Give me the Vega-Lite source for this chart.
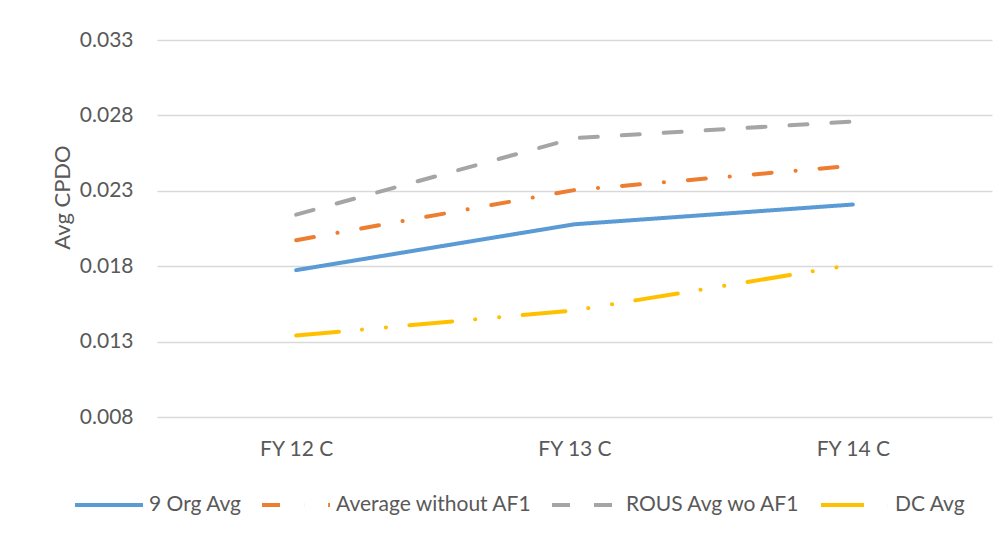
{
  "$schema": "https://vega.github.io/schema/vega-lite/v6.json",
  "width": 835,
  "height": 377,
  "autosize": {"type": "none"},
  "padding": {"left": 157, "top": 40, "right": 13, "bottom": 121},
  "background": "white",
  "config": {
    "view": {"stroke": null},
    "font": "Lato",
    "axis": {"labelColor": "#595959", "titleColor": "#595959", "labelFont": "Lato", "titleFont": "Lato"},
    "legend": {
      "orient": "none",
      "direction": "horizontal",
      "legendX": -84,
      "legendY": 429,
      "padding": 0,
      "symbolType": "stroke",
      "symbolSize": 4624,
      "symbolStrokeWidth": 4,
      "labelFontSize": 21,
      "labelColor": "#595959",
      "labelFont": "Lato",
      "labelLimit": 0,
      "labelOffset": 4,
      "columnPadding": 12,
      "title": null
    }
  },
  "data": {
    "values": [
      {"period": "FY 12 C", "series": "9 Org Avg", "cpdo": 0.01774},
      {"period": "FY 13 C", "series": "9 Org Avg", "cpdo": 0.02078},
      {"period": "FY 14 C", "series": "9 Org Avg", "cpdo": 0.02209},
      {"period": "FY 12 C", "series": "Average without AF1", "cpdo": 0.01972},
      {"period": "FY 13 C", "series": "Average without AF1", "cpdo": 0.02305},
      {"period": "FY 14 C", "series": "Average without AF1", "cpdo": 0.02466},
      {"period": "FY 12 C", "series": "ROUS Avg wo AF1", "cpdo": 0.02142},
      {"period": "FY 13 C", "series": "ROUS Avg wo AF1", "cpdo": 0.02649},
      {"period": "FY 14 C", "series": "ROUS Avg wo AF1", "cpdo": 0.02759},
      {"period": "FY 12 C", "series": "DC Avg", "cpdo": 0.0134},
      {"period": "FY 13 C", "series": "DC Avg", "cpdo": 0.01507},
      {"period": "FY 14 C", "series": "DC Avg", "cpdo": 0.0181}
    ]
  },
  "mark": {"type": "line", "strokeWidth": 4, "strokeCap": "round"},
  "encoding": {
    "x": {
      "field": "period",
      "type": "nominal",
      "sort": ["FY 12 C", "FY 13 C", "FY 14 C"],
      "scale": {"type": "point", "padding": 0.5},
      "axis": {
        "title": null,
        "domain": false,
        "ticks": false,
        "grid": false,
        "labelAngle": 0,
        "labelFontSize": 21,
        "labelPadding": 21
      }
    },
    "y": {
      "field": "cpdo",
      "type": "quantitative",
      "scale": {"domain": [0.008, 0.033], "nice": false, "zero": false},
      "axis": {
        "title": "Avg CPDO",
        "values": [0.008, 0.013, 0.018, 0.023, 0.028, 0.033],
        "format": ".3f",
        "domain": false,
        "ticks": false,
        "grid": true,
        "gridColor": "#d9d9d9",
        "gridWidth": 1.5,
        "labelFontSize": 21,
        "labelPadding": 24,
        "titleFontSize": 22,
        "titleFontWeight": "normal",
        "titleX": -95,
        "titleY": 157,
        "titleAlign": "center",
        "titleBaseline": "middle",
        "titleAngle": -90
      }
    },
    "color": {
      "field": "series",
      "type": "nominal",
      "sort": ["9 Org Avg", "Average without AF1", "ROUS Avg wo AF1", "DC Avg"],
      "scale": {
        "domain": ["9 Org Avg", "Average without AF1", "ROUS Avg wo AF1", "DC Avg"],
        "range": ["#5B9BD5", "#ED7D31", "#A5A5A5", "#FFC000"]
      },
      "legend": {
        "labelExpr": "datum.label == 'DC Avg' ? '\u00a0\u00a0\u00a0DC Avg' : datum.label"
      }
    },
    "strokeDash": {
      "field": "series",
      "type": "nominal",
      "sort": ["9 Org Avg", "Average without AF1", "ROUS Avg wo AF1", "DC Avg"],
      "scale": {
        "domain": ["9 Org Avg", "Average without AF1", "ROUS Avg wo AF1", "DC Avg"],
        "range": [[1, 0], [18, 24, 0.1, 24], [18, 24], [43, 23, 0.1, 24, 0.1, 23.5]]
      },
      "legend": {
        "labelExpr": "datum.label == 'DC Avg' ? '\u00a0\u00a0\u00a0DC Avg' : datum.label"
      }
    }
  }
}
